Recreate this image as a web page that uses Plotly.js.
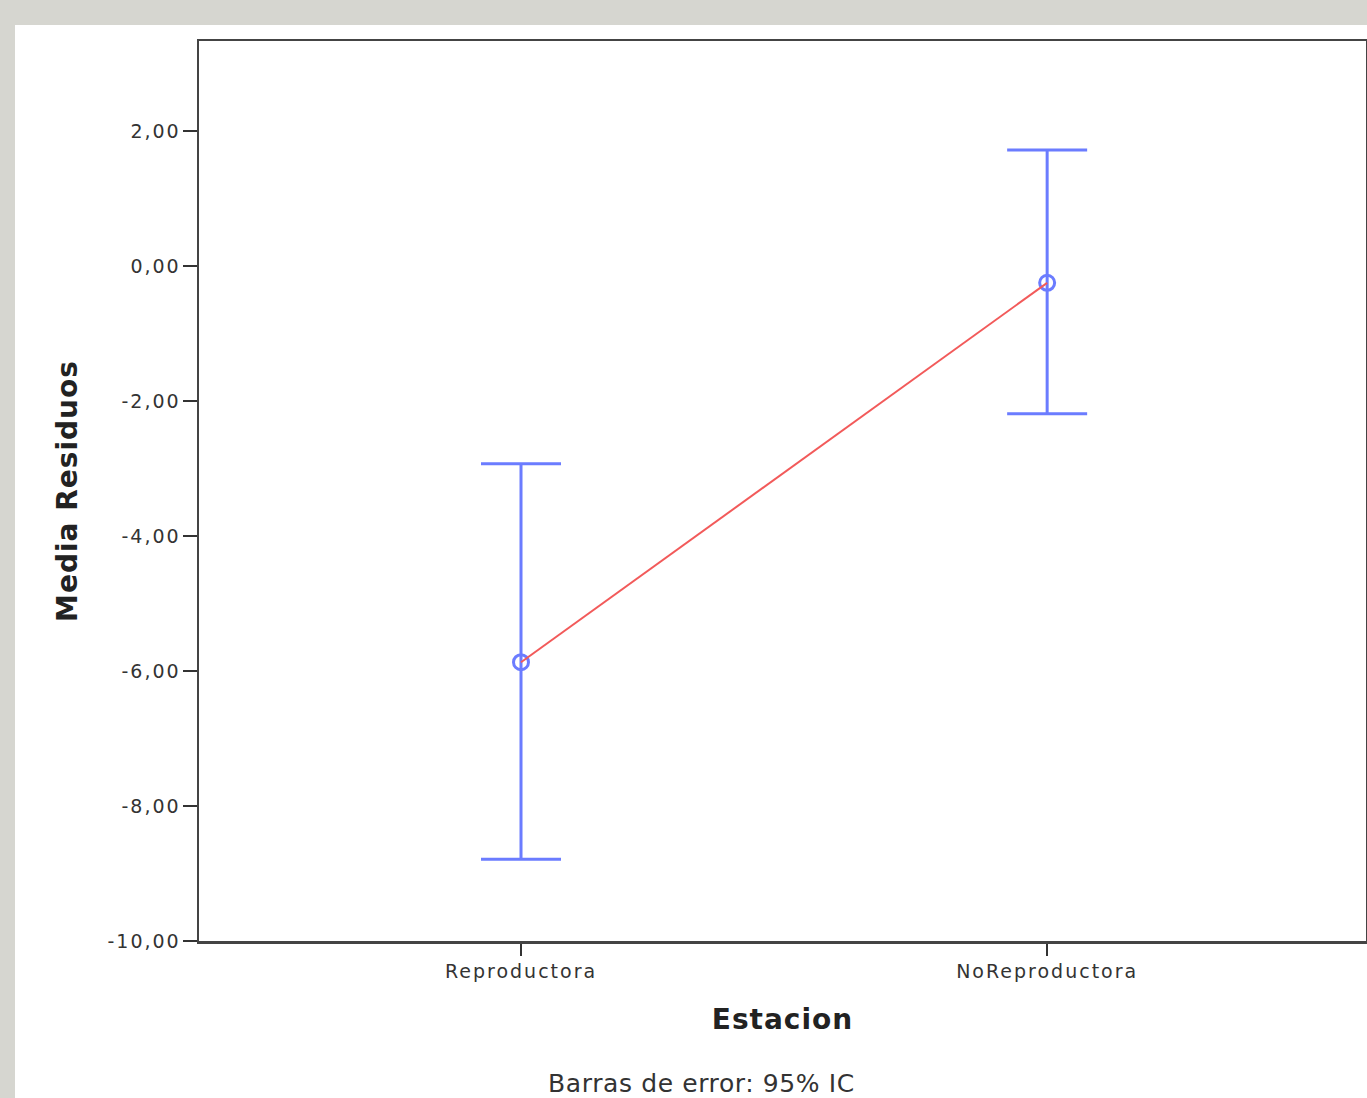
<!DOCTYPE html>
<html>
<head>
<meta charset="utf-8">
<script src="https://cdn.plot.ly/plotly-3.0.1.min.js"></script>
<style>
  html, body { margin: 0; padding: 0; background: #d6d6d0; }
  #plot { width: 1367px; height: 1098px; }
  #plot .xtick text, #plot .ytick text { letter-spacing: 2px; }
  #plot .g-xtitle text, #plot .g-ytitle text { letter-spacing: 1px; }
  #plot .annotation-text { letter-spacing: 0.6px; }
</style>
</head>
<body>
<div id="plot"></div>
<script>
// Data
const categories = ["Reproductora", "NoReproductora"];
const means = [-5.87, -0.25];
const ciUpper = [-2.93, 1.72];
const ciLower = [-8.79, -2.19];

const yTickVals = [-10, -8, -6, -4, -2, 0, 2];
const yTickText = ["-10,00", "-8,00", "-6,00", "-4,00", "-2,00", "0,00", "2,00"];

const plusErr = means.map((m, i) => ciUpper[i] - m);
const minusErr = means.map((m, i) => m - ciLower[i]);

const blue = "#6b7cff";
const red = "#f25a5a";
const font = "DejaVu Sans, Verdana, sans-serif";

const traces = [
  {
    x: categories,
    y: means,
    type: "scatter",
    mode: "markers",
    marker: { symbol: "circle-open", size: 15, color: blue, line: { width: 3, color: blue } },
    error_y: {
      type: "data",
      symmetric: false,
      array: plusErr,
      arrayminus: minusErr,
      color: blue,
      thickness: 3,
      width: 40
    },
    hoverinfo: "skip",
    showlegend: false
  },
  {
    x: categories,
    y: means,
    type: "scatter",
    mode: "lines",
    line: { color: red, width: 2 },
    hoverinfo: "skip",
    showlegend: false
  }
];

const layout = {
  width: 1367,
  height: 1098,
  paper_bgcolor: "#d6d6d0",
  plot_bgcolor: "#ffffff",
  margin: { l: 199, r: 1, t: 41, b: 157, pad: 0 },
  showlegend: false,
  font: { family: font, color: "#333" },
  xaxis: {
    type: "category",
    range: [-0.612, 1.606],
    showgrid: false,
    zeroline: false,
    showline: true,
    linecolor: "#444",
    linewidth: 2.5,
    mirror: true,
    ticks: "outside",
    ticklen: 12,
    tickwidth: 2,
    tickcolor: "#333",
    tickfont: { family: font, size: 19, color: "#333" },
    automargin: false,
    title: { text: "Estacion", font: { family: font, size: 28, color: "#222", weight: "bold" }, standoff: 28 }
  },
  yaxis: {
    range: [-10, 3.333],
    tickvals: yTickVals,
    ticktext: yTickText,
    showgrid: false,
    zeroline: false,
    showline: true,
    linecolor: "#444",
    linewidth: 2.5,
    mirror: true,
    ticks: "outside",
    ticklen: 14,
    tickwidth: 2,
    tickcolor: "#333",
    ticklabelstandoff: -2,
    tickfont: { family: font, size: 19, color: "#333" },
    automargin: false,
    title: { text: "Media Residuos", font: { family: font, size: 28, color: "#222", weight: "bold" }, standoff: 34 }
  },
  shapes: [
    {
      type: "rect", xref: "paper", yref: "paper", layer: "below",
      x0: -184 / 1167, x1: 1.01, y0: -160 / 900, y1: 1 + 16 / 900,
      fillcolor: "#ffffff", line: { width: 0 }
    }
  ],
  annotations: [
    {
      xref: "paper", yref: "paper",
      x: (701 - 199) / 1167, y: -(1083 - 941) / 900,
      xanchor: "center", yanchor: "middle",
      text: "Barras de error: 95% IC",
      showarrow: false,
      font: { family: font, size: 25, color: "#333" }
    }
  ]
};

Plotly.newPlot("plot", traces, layout, { staticPlot: true, displayModeBar: false });
</script>
</body>
</html>
